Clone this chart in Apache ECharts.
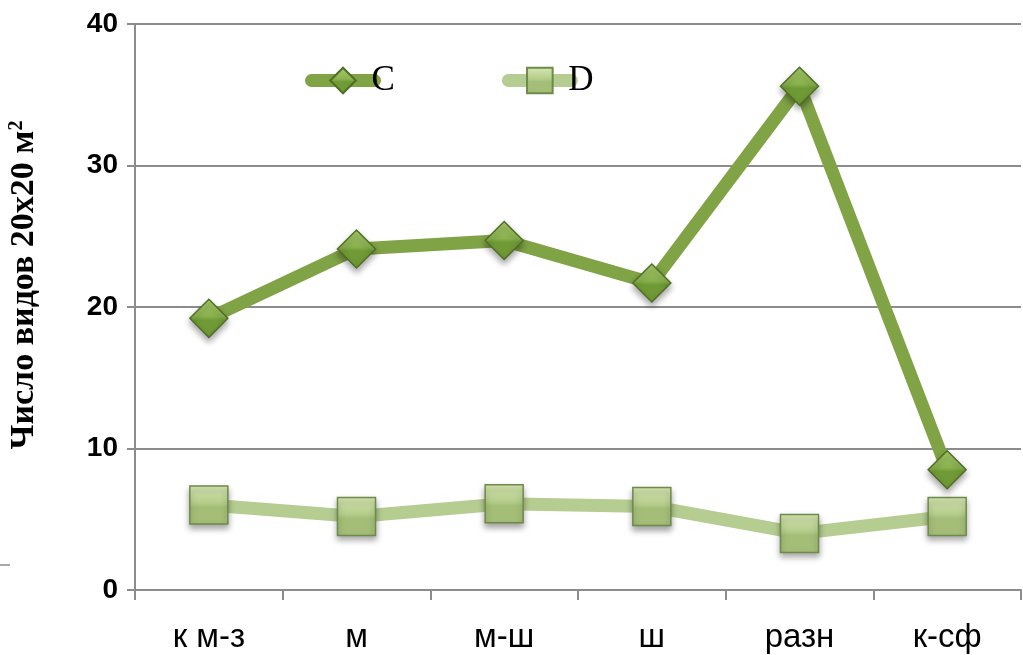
<!DOCTYPE html>
<html>
<head>
<meta charset="utf-8">
<script src="https://cdn.jsdelivr.net/npm/echarts@6/dist/echarts.min.js"></script>
<style>
  html, body { margin: 0; padding: 0; background: #fff; }
  #chart { width: 1023px; height: 655px; }
</style>
</head>
<body>
<div id="chart"></div>
<script>
// Habitat categories along the x axis
const categories = ['к м-з', 'м', 'м-ш', 'ш', 'разн', 'к-сф'];
// Species counts per 20x20 m plot
const seriesC = [19.2, 24.1, 24.7, 21.7, 35.6, 8.5];
const seriesD = [6.0, 5.2, 6.1, 5.9, 4.0, 5.2];
const yTicks = { min: 0, max: 40, interval: 10 };

const chart = echarts.init(document.getElementById('chart'));

function bevel(light, mid, dark) {
  return new echarts.graphic.LinearGradient(0, 0, 0, 1, [
    { offset: 0, color: light },
    { offset: 0.45, color: mid },
    { offset: 0.55, color: dark },
    { offset: 1, color: dark }
  ]);
}

const axisGray = '#8c8c8c';

chart.setOption({
  animation: false,
  backgroundColor: '#ffffff',
  grid: { left: 135, right: 2, top: 24, bottom: 65, containLabel: false, outerBoundsMode: 'none' },
  legend: {
    left: 305,
    top: 63,
    padding: 0,
    itemWidth: 63,
    itemHeight: 32,
    itemGap: 107,
    lineStyle: { width: 13, cap: 'round' },
    textStyle: { fontFamily: 'Liberation Serif', fontSize: 35, color: '#000', padding: [0, 0, 0, -8] },
    data: ['C', 'D']
  },
  xAxis: {
    type: 'category',
    data: categories,
    boundaryGap: true,
    axisLine: { lineStyle: { color: axisGray, width: 2 } },
    axisTick: { show: true, length: 10, lineStyle: { color: axisGray, width: 2 } },
    axisLabel: { fontFamily: 'Liberation Sans', fontSize: 33, color: '#000', margin: 31 }
  },
  yAxis: {
    type: 'value',
    min: yTicks.min,
    max: yTicks.max,
    interval: yTicks.interval,
    name: 'Число видов 20х20 м{sup|2}',
    nameLocation: 'middle',
    nameRotate: 90,
    nameGap: 94,
    nameTextStyle: {
      fontFamily: 'Liberation Serif',
      fontWeight: 'bold',
      fontSize: 34,
      color: '#000',
      padding: [0, 0, 0, 44],
      rich: {
        sup: { fontFamily: 'Liberation Serif', fontWeight: 'bold', fontSize: 20, verticalAlign: 'top', padding: [0, 0, 14, 0], color: '#000' }
      }
    },
    axisLine: { show: true, lineStyle: { color: axisGray, width: 2 } },
    axisTick: { show: true, length: 8, lineStyle: { color: axisGray, width: 2 } },
    splitLine: { show: true, lineStyle: { color: axisGray, width: 2 } },
    axisLabel: { fontFamily: 'Liberation Sans', fontWeight: 'bold', fontSize: 28, color: '#000', margin: 17 }
  },
  series: [
    {
      name: 'C',
      type: 'line',
      data: seriesC,
      z: 3,
      symbol: 'diamond',
      symbolSize: [38, 38],
      lineStyle: { color: '#80a346', width: 13, cap: 'round' },
      itemStyle: {
        color: bevel('#a9cc6c', '#8ab24e', '#6f9a35'),
        borderColor: '#4f6e26',
        borderWidth: 1.5,
        shadowColor: 'rgba(0,0,0,0.35)',
        shadowBlur: 6,
        shadowOffsetY: 4
      }
    },
    {
      name: 'D',
      type: 'line',
      data: seriesD,
      z: 2,
      symbol: 'rect',
      symbolSize: [38, 38],
      lineStyle: { color: '#b6cd92', width: 13, cap: 'round' },
      itemStyle: {
        color: bevel('#d8e8b4', '#b4cc8a', '#a4be78'),
        borderColor: '#6e8a4a',
        borderWidth: 1.5,
        shadowColor: 'rgba(0,0,0,0.35)',
        shadowBlur: 6,
        shadowOffsetY: 4
      }
    }
  ],
  graphic: [
    {
      type: 'line',
      shape: { x1: 0, y1: 565, x2: 10, y2: 565 },
      style: { stroke: axisGray, lineWidth: 1.5 }
    }
  ]
});
</script>
</body>
</html>
